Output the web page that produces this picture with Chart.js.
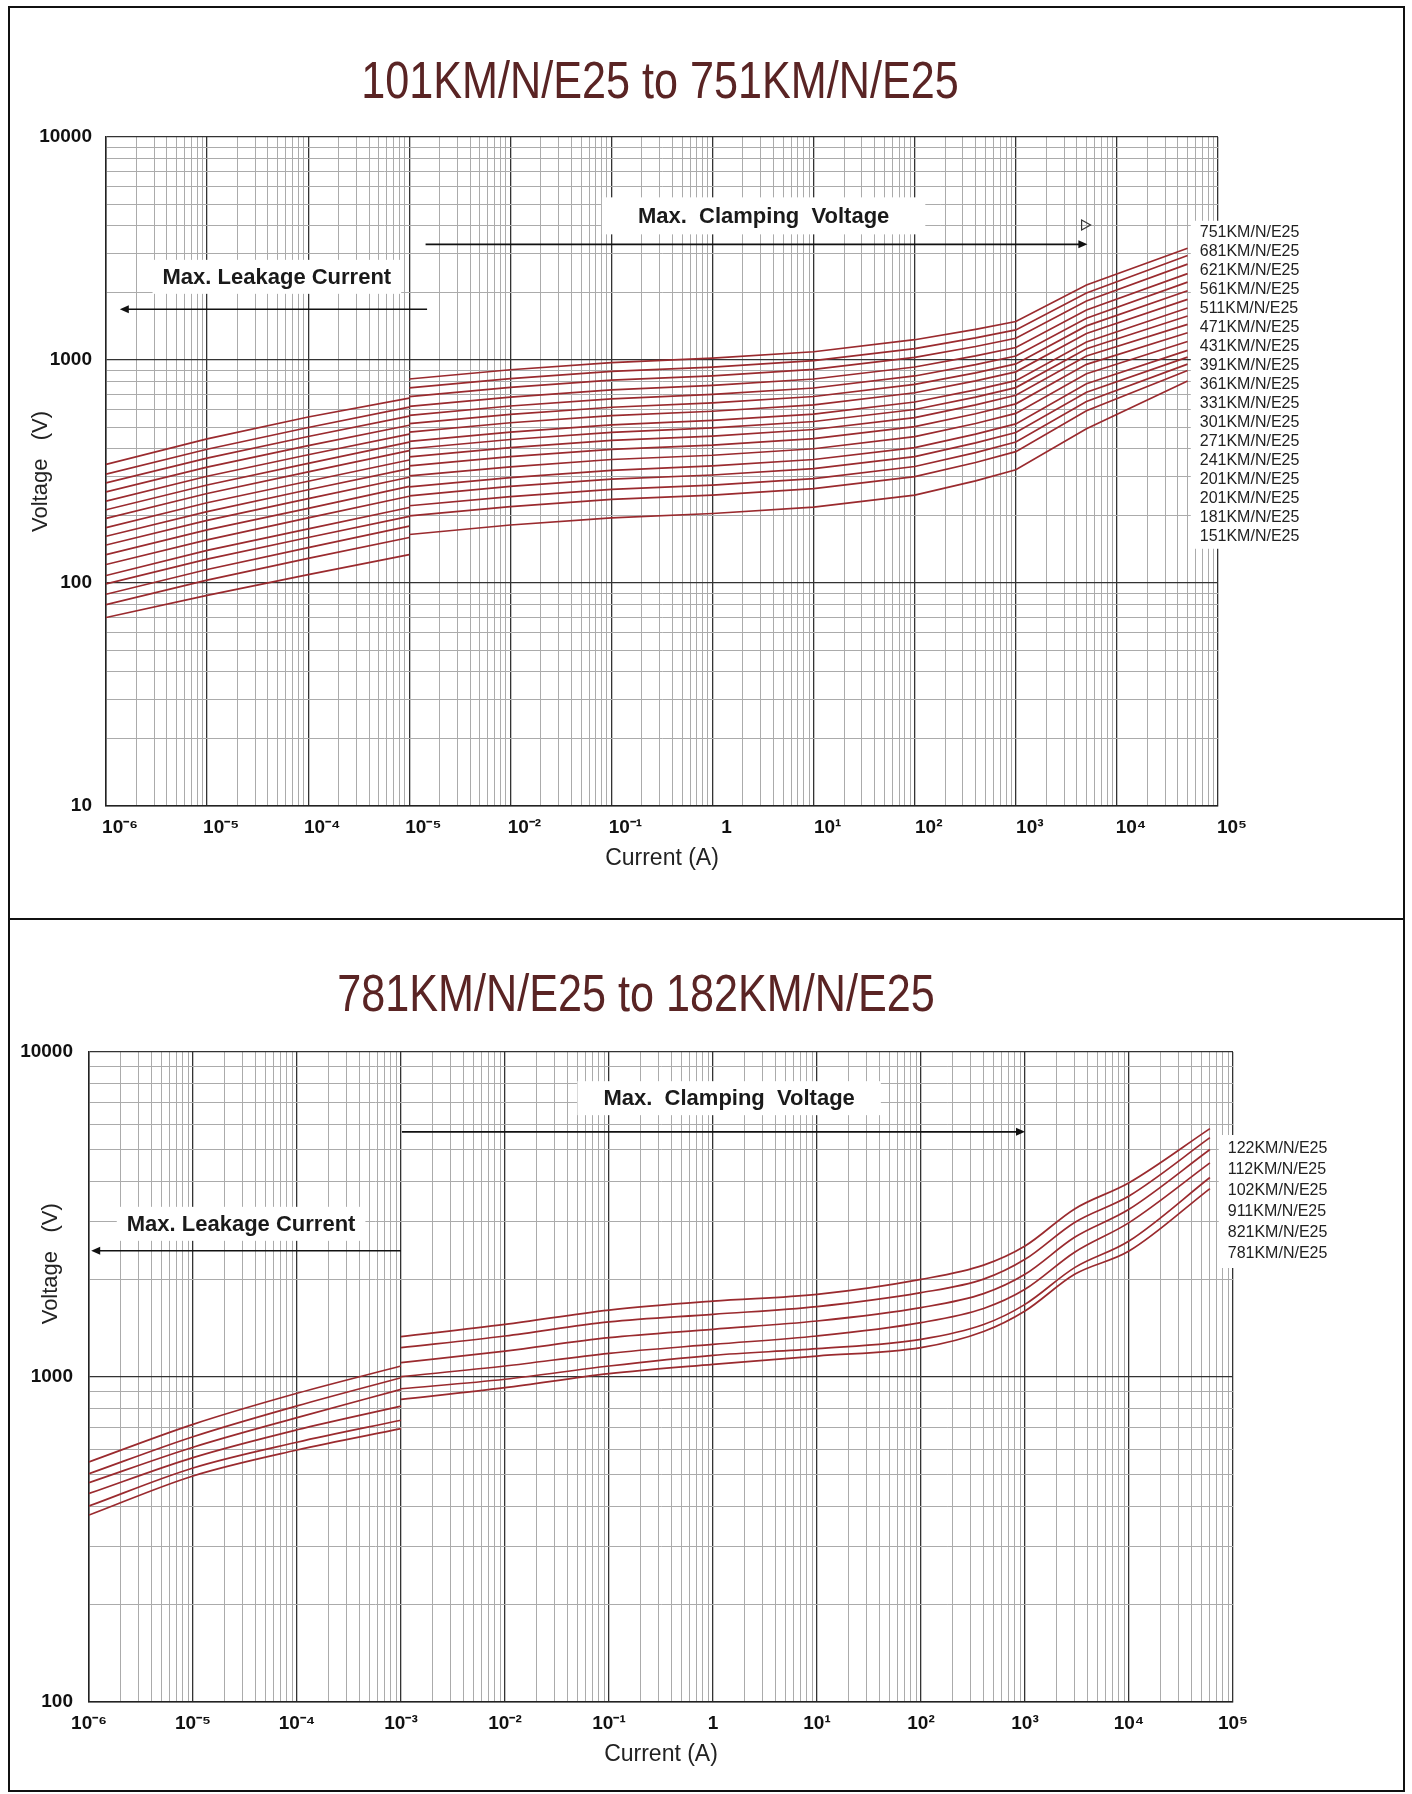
<!DOCTYPE html>
<html>
<head>
<meta charset="utf-8">
<script src="https://cdn.jsdelivr.net/npm/chart.js@4.4.0/dist/chart.umd.min.js"></script>
<style>
  body { margin: 0; background: #fff; }
  .frame { position: absolute; left: 8px; width: 1397px; border: 2px solid #111; box-sizing: border-box; }
  #topFrame { top: 6px; height: 914px; }
  #bottomFrame { top: 918px; height: 874px; }
  canvas { position: absolute; left: 0; top: 0; }
</style>
</head>
<body>
<div class="frame" id="topFrame"><canvas id="topChart" width="1393" height="910"></canvas></div>
<div class="frame" id="bottomFrame"><canvas id="bottomChart" width="1393" height="870"></canvas></div>
<script>
// currents (A) where the curves were read
const leakX = [1e-6, 1e-5, 1e-4, 1e-3];
const topClampX = [1e-3, 1e-2, 1e-1, 1, 10, 100, 400, 1000, 5000, 50000];
const bottomClampX = [1e-3, 1e-2, 1e-1, 1, 10, 100, 400, 1000, 3000, 10000, 60000];

// tick labels (the top chart really says 10^-5 twice)
const topXLabels = ['10⁻⁶', '10⁻⁵', '10⁻⁴', '10⁻⁵', '10⁻²', '10⁻¹', '1', '10¹', '10²', '10³', '10⁴', '10⁵'];
const bottomXLabels = ['10⁻⁶', '10⁻⁵', '10⁻⁴', '10⁻³', '10⁻²', '10⁻¹', '1', '10¹', '10²', '10³', '10⁴', '10⁵'];
const topYLabels = ['10', '100', '1000', '10000'];
const bottomYLabels = ['100', '1000', '10000'];

// series, top to bottom
const topNames = ['751KM/N/E25', '681KM/N/E25', '621KM/N/E25', '561KM/N/E25', '511KM/N/E25', '471KM/N/E25',
  '431KM/N/E25', '391KM/N/E25', '361KM/N/E25', '331KM/N/E25', '301KM/N/E25', '271KM/N/E25',
  '241KM/N/E25', '201KM/N/E25', '201KM/N/E25', '181KM/N/E25', '151KM/N/E25'];
const topLeak = [
  [340, 443, 555, 675],
  [308, 398, 498, 615],
  [281, 363, 454, 560],
  [256, 331, 413, 510],
  [233, 301, 376, 465],
  [213, 275, 344, 428],
  [195, 252, 315, 392],
  [177, 229, 286, 356],
  [162, 209, 262, 326],
  [148, 191, 239, 298],
  [134, 173, 216, 271],
  [121, 156, 196, 245],
  [108, 140, 175, 218],
  [99, 128, 160, 199],
  [89, 115, 144, 180],
  [80, 103, 129, 160],
  [70, 88, 109, 134]
];
const topClamp = [
  [822, 904, 974, 1019, 1089, 1233, 1373, 1488, 2170, 3170],
  [750, 825, 889, 930, 994, 1125, 1256, 1364, 1996, 2940],
  [685, 754, 812, 849, 908, 1028, 1150, 1252, 1838, 2690],
  [620, 682, 735, 769, 822, 930, 1043, 1138, 1676, 2440],
  [565, 622, 670, 701, 749, 848, 953, 1042, 1540, 2235],
  [518, 570, 614, 642, 686, 777, 876, 960, 1422, 2045],
  [475, 523, 563, 589, 629, 713, 806, 885, 1315, 1870],
  [432, 475, 512, 536, 572, 648, 735, 808, 1205, 1710],
  [400, 440, 474, 496, 530, 600, 682, 752, 1124, 1575],
  [368, 405, 436, 456, 488, 552, 629, 695, 1042, 1445],
  [335, 369, 397, 415, 444, 503, 574, 636, 956, 1325],
  [302, 332, 358, 374, 400, 453, 519, 576, 868, 1210],
  [270, 297, 320, 335, 358, 405, 465, 517, 782, 1105],
  [246, 271, 292, 305, 326, 369, 425, 473, 717, 1030],
  [222, 244, 263, 275, 294, 333, 384, 429, 652, 958],
  [200, 220, 237, 248, 265, 300, 347, 388, 592, 897],
  [165, 182, 196, 205, 219, 248, 287, 322, 492, 805]
];

const bottomNames = ['122KM/N/E25', '112KM/N/E25', '102KM/N/E25', '911KM/N/E25', '821KM/N/E25', '781KM/N/E25'];
const bottomLeak = [
  [548, 715, 891, 1081],
  [504, 655, 815, 995],
  [473, 608, 750, 916],
  [438, 565, 688, 814],
  [401, 525, 630, 736],
  [376, 496, 596, 694]
];
const bottomClamp = [
  [1331, 1452, 1607, 1713, 1796, 1997, 2210, 2530, 3290, 3960, 5810],
  [1231, 1337, 1477, 1559, 1646, 1817, 2000, 2302, 2990, 3606, 5450],
  [1107, 1202, 1321, 1402, 1487, 1635, 1805, 2070, 2690, 3280, 5010],
  [1002, 1081, 1183, 1260, 1337, 1470, 1625, 1861, 2420, 2985, 4560],
  [920, 984, 1081, 1166, 1222, 1306, 1450, 1673, 2170, 2620, 4110],
  [853, 927, 1024, 1094, 1160, 1231, 1380, 1596, 2070, 2440, 3800]
];

const lineColor = '#9a2a2e';
const minorGrid = '#ababab';
const majorGrid = '#333333';
const titleColor = '#5a2424';
const sans = '"Liberation Sans", Arial, sans-serif';
Chart.defaults.font.family = sans;

function isDecade(v) {
  const l = Math.log10(v);
  return Math.abs(l - Math.round(l)) < 1e-6;
}

function logTicks(minExp, maxExp) {
  const vals = [];
  for (let e = minExp; e < maxExp; e++) {
    for (let m = 1; m < 10; m++) vals.push(m * Math.pow(10, e));
  }
  vals.push(Math.pow(10, maxExp));
  return vals.map(v => ({ value: v }));
}

function makeDatasets(names, leak, clamp, clampX, smooth) {
  return names.map((name, i) => {
    const pts = leakX.map((x, j) => ({ x: x, y: leak[i][j] }));
    pts.push({ x: 1e-3, y: null }); // break between leakage and clamping curves
    clampX.forEach((x, j) => pts.push({ x: x, y: clamp[i][j] }));
    return {
      label: name,
      data: pts,
      borderColor: lineColor,
      borderWidth: 1.7,
      pointRadius: 0,
      fill: false,
      spanGaps: false,
      cubicInterpolationMode: smooth ? 'monotone' : 'default',
      tension: 0
    };
  });
}

// title, white label boxes, arrows, series list drawn on top of the plot
const extrasPlugin = {
  id: 'extras',
  afterDraw(chart, args, opts) {
    if (!opts.title) return;
    const ctx = chart.ctx;
    const ca = chart.chartArea;
    ctx.save();
    ctx.font = '52px ' + sans;
    ctx.fillStyle = titleColor;
    ctx.textAlign = 'center';
    ctx.textBaseline = 'alphabetic';
    ctx.translate((ca.left + ca.right) / 2 + opts.title.shift, opts.title.base);
    ctx.scale(0.83, 1); // the original title face is condensed
    ctx.fillText(opts.title.text, 0, 0);
    ctx.restore();
  },
  afterDatasetsDraw(chart, args, opts) {
    const ctx = chart.ctx;
    const x = chart.scales.x, y = chart.scales.y;
    ctx.save();
    (opts.boxes || []).forEach(b => {
      ctx.font = 'bold 22px ' + sans;
      const w = ctx.measureText(b.text).width + 2 * b.padX;
      const cx = x.getPixelForValue(b.x), cy = y.getPixelForValue(b.y);
      ctx.fillStyle = '#fff';
      ctx.fillRect(cx - w / 2, cy - b.h / 2, w, b.h);
      ctx.fillStyle = '#1a1a1a';
      ctx.textAlign = 'center';
      ctx.textBaseline = 'middle';
      ctx.fillText(b.text, cx, cy + 1);
    });
    (opts.arrows || []).forEach(a => {
      const x0 = x.getPixelForValue(a.from), x1 = x.getPixelForValue(a.to), yy = y.getPixelForValue(a.y);
      const d = Math.sign(x1 - x0);
      ctx.strokeStyle = '#111';
      ctx.fillStyle = '#111';
      ctx.lineWidth = 1.6;
      ctx.beginPath();
      ctx.moveTo(x0, yy);
      ctx.lineTo(x1 - d * 4, yy);
      ctx.stroke();
      ctx.beginPath();
      ctx.moveTo(x1, yy);
      ctx.lineTo(x1 - d * 9, yy - 4);
      ctx.lineTo(x1 - d * 9, yy + 4);
      ctx.closePath();
      ctx.fill();
    });
    if (opts.marker) {
      const mx = x.getPixelForValue(opts.marker.x), my = y.getPixelForValue(opts.marker.y);
      ctx.strokeStyle = '#333';
      ctx.lineWidth = 1.2;
      ctx.beginPath();
      ctx.moveTo(mx - 4, my - 5);
      ctx.lineTo(mx + 5, my);
      ctx.lineTo(mx - 4, my + 5);
      ctx.closePath();
      ctx.stroke();
    }
    if (opts.legend) {
      const L = opts.legend;
      const names = chart.data.datasets.map(d => d.label);
      ctx.font = '16px ' + sans;
      const lx = x.getPixelForValue(L.x), ly = y.getPixelForValue(L.y);
      const maxW = Math.max(...names.map(n => ctx.measureText(n).width));
      ctx.fillStyle = '#fff';
      ctx.fillRect(lx - 9, ly - L.pad, maxW + 18, L.step * (names.length - 1) + 2 * L.pad);
      ctx.fillStyle = '#222';
      ctx.textAlign = 'left';
      ctx.textBaseline = 'middle';
      names.forEach((n, i) => ctx.fillText(n, lx, ly + i * L.step));
    }
    if (opts.yTitle) {
      ctx.translate(opts.yTitle.px, y.getPixelForValue(opts.yTitle.y));
      ctx.rotate(-Math.PI / 2);
      ctx.font = '22px ' + sans;
      ctx.fillStyle = '#222';
      ctx.textAlign = 'center';
      ctx.textBaseline = 'middle';
      ctx.fillText(opts.yTitle.text, 0, 0);
    }
    ctx.restore();
  }
};

function gridColor(ctx) {
  return isDecade(ctx.tick.value) ? majorGrid : minorGrid;
}

function buildChart(id, cfg) {
  return new Chart(document.getElementById(id), {
    type: 'line',
    data: { datasets: makeDatasets(cfg.names, cfg.leak, cfg.clamp, cfg.clampX, cfg.smooth) },
    plugins: [extrasPlugin],
    options: {
      responsive: false,
      animation: false,
      events: [],
      layout: { padding: { left: 0, right: cfg.padRight, top: cfg.padTop, bottom: 0 } },
      plugins: {
        legend: { display: false },
        tooltip: { enabled: false },
        title: { display: false },
        extras: cfg.extras
      },
      scales: {
        x: {
          type: 'logarithmic',
          min: 1e-6,
          max: 1e5,
          afterBuildTicks: s => { s.ticks = logTicks(-6, 5); },
          afterFit: s => { s.height = cfg.xHeight; },
          grid: { color: gridColor, lineWidth: c => isDecade(c.tick.value) ? 1.3 : 1, drawTicks: false },
          border: { color: '#222', width: 1.5 },
          ticks: {
            autoSkip: false,
            maxRotation: 0,
            minRotation: 0,
            padding: 10,
            labelOffset: cfg.labelOffset,
            color: '#111',
            font: { size: 19, weight: 'bold' },
            callback: v => isDecade(v) ? cfg.xLabels[Math.round(Math.log10(v)) + 6] : ''
          },
          title: {
            display: true,
            text: 'Current (A)',
            color: '#222',
            font: { size: 23 },
            padding: { top: 0, bottom: cfg.xTitlePad }
          }
        },
        y: {
          type: 'logarithmic',
          min: cfg.yMin,
          max: 10000,
          afterBuildTicks: s => { s.ticks = logTicks(Math.round(Math.log10(cfg.yMin)), 4); },
          afterFit: s => { s.width = cfg.yWidth; },
          grid: { color: gridColor, lineWidth: c => isDecade(c.tick.value) ? 1.3 : 1, drawTicks: false },
          border: { color: '#222', width: 1.5 },
          ticks: {
            autoSkip: false,
            padding: cfg.yTickPad,
            color: '#111',
            font: { size: 19, weight: 'bold' },
            callback: v => isDecade(v) ? cfg.yLabels[Math.round(Math.log10(v)) - Math.round(Math.log10(cfg.yMin))] : ''
          },
          title: {
            display: cfg.yTitleOnAxis,
            text: 'Voltage   (V)',
            color: '#222',
            font: { size: 22 },
            padding: { top: 18, bottom: 0 }
          }
        }
      }
    }
  });
}

buildChart('topChart', {
  names: topNames, leak: topLeak, clamp: topClamp, clampX: topClampX, smooth: false,
  xLabels: topXLabels, yLabels: topYLabels, yMin: 10,
  padRight: 185, padTop: 129, xHeight: 112, yWidth: 96, yTickPad: 14, labelOffset: 14, xTitlePad: 46,
  yTitleOnAxis: true,
  extras: {
    title: { text: '101KM/N/E25 to 751KM/N/E25', shift: -2, base: 90 },
    boxes: [
      { text: 'Max.  Clamping  Voltage', x: 3.2, y: 4430, padX: 36, h: 37 },
      { text: 'Max. Leakage Current', x: 4.9e-5, y: 2360, padX: 10, h: 34 }
    ],
    arrows: [
      { from: 1.45e-3, to: 5.1e3, y: 3300 },
      { from: 1.5e-3, to: 1.37e-6, y: 1690 }
    ],
    marker: { x: 4.9e3, y: 4030 },
    legend: { x: 6.6e4, y: 3720, step: 19, pad: 12 }
  }
});

buildChart('bottomChart', {
  names: bottomNames, leak: bottomLeak, clamp: bottomClamp, clampX: bottomClampX, smooth: true,
  xLabels: bottomXLabels, yLabels: bottomYLabels, yMin: 100,
  padRight: 170, padTop: 132, xHeight: 88, yWidth: 79, yTickPad: 16, labelOffset: 0, xTitlePad: 22,
  yTitleOnAxis: false,
  extras: {
    title: { text: '781KM/N/E25 to 182KM/N/E25', shift: -25, base: 91 },
    boxes: [
      { text: 'Max.  Clamping  Voltage', x: 1.43, y: 7210, padX: 26, h: 34 },
      { text: 'Max. Leakage Current', x: 2.9e-5, y: 2960, padX: 10, h: 34 }
    ],
    arrows: [
      { from: 1.02e-3, to: 1e3, y: 5680 },
      { from: 1e-3, to: 1.05e-6, y: 2445 }
    ],
    legend: { x: 8.9e4, y: 5030, step: 21, pad: 14 },
    yTitle: { text: 'Voltage   (V)', px: 41, y: 2230 }
  }
});
</script>
</body>
</html>
